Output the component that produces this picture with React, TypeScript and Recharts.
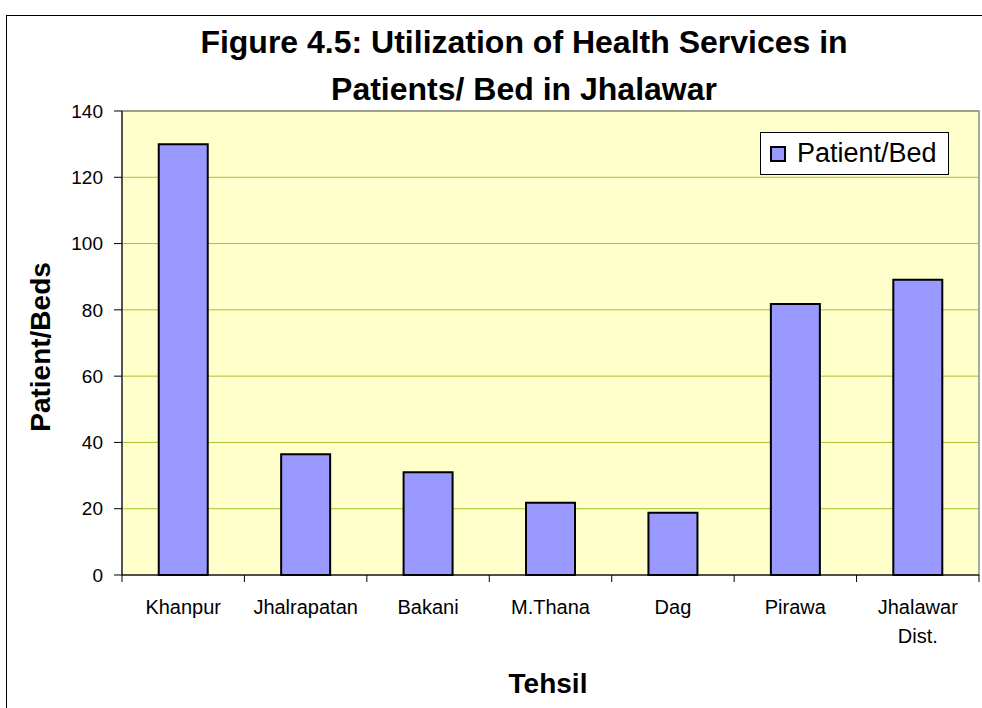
import React from "react";
import {
  BarChart,
  Bar,
  XAxis,
  YAxis,
  CartesianGrid,
  Legend,
  ReferenceArea,
} from "recharts";

const categories = [
  "Khanpur",
  "Jhalrapatan",
  "Bakani",
  "M.Thana",
  "Dag",
  "Pirawa",
  "Jhalawar Dist.",
];
const patientPerBed = [130, 36.4, 31, 21.8, 18.8, 81.8, 89.1];
const yTicks = [0, 20, 40, 60, 80, 100, 120, 140];
const seriesName = "Patient/Bed";
const titleLines = [
  "Figure 4.5: Utilization of Health Services in",
  "Patients/ Bed in Jhalawar",
];
const xTitle = "Tehsil";
const yTitle = "Patient/Beds";

const data = categories.map((c, i) => ({ tehsil: c, value: patientPerBed[i] }));

const W = 982;
const H = 708;
const PLOT_LEFT = 122;
const PLOT_RIGHT = 979;
const PLOT_TOP = 111;
const PLOT_BOTTOM = 575;
const BAND = (PLOT_RIGHT - PLOT_LEFT) / categories.length;
const FONT = "'Liberation Sans', Arial, Helvetica, sans-serif";

const CatTick = (props: any) => {
  const { x, payload, index } = props;
  const words = String(payload.value).split(" ");
  const isLast = index === categories.length - 1;
  return (
    <g>
      <line x1={x - BAND / 2} x2={x - BAND / 2} y1={PLOT_BOTTOM} y2={PLOT_BOTTOM + 7} stroke="#000" />
      {isLast && (
        <line x1={x + BAND / 2} x2={x + BAND / 2} y1={PLOT_BOTTOM} y2={PLOT_BOTTOM + 7} stroke="#000" />
      )}
      <text textAnchor="middle" fontSize={20} fontFamily={FONT} fill="#000">
        {words.map((w, i) => (
          <tspan key={i} x={x} y={PLOT_BOTTOM + 39 + i * 29}>
            {w}
          </tspan>
        ))}
      </text>
    </g>
  );
};

const LegendBox = () => (
  <div
    style={{
      boxSizing: "border-box",
      width: 189,
      height: 43,
      background: "#fff",
      border: "1px solid #000",
      display: "flex",
      alignItems: "center",
      fontFamily: FONT,
      fontSize: 27,
      color: "#000",
    }}
  >
    <span
      style={{
        display: "inline-block",
        boxSizing: "border-box",
        width: 16,
        height: 16,
        background: "#9999FF",
        border: "2px solid #000",
        marginLeft: 9,
        marginRight: 11,
      }}
    />
    <span>{seriesName}</span>
  </div>
);

export default function App() {
  return (
    <div style={{ position: "absolute", left: 0, top: 0, width: W, height: H, background: "#fff", overflow: "hidden" }}>
      <BarChart
        width={W}
        height={H}
        data={data}
        margin={{ top: PLOT_TOP, right: W - PLOT_RIGHT, bottom: 0, left: 0 }}
        barCategoryGap="30%"
      >
        <CartesianGrid vertical={false} stroke="#A4C62E" fill="#FFFFCC" fillOpacity={1} />
        <ReferenceArea
          x1={categories[0]}
          x2={categories[categories.length - 1]}
          y1={0}
          y2={140}
          fill="none"
          fillOpacity={0}
          stroke="#8c8c8c"
          strokeWidth={1.5}
          ifOverflow="visible"
        />
        <XAxis
          dataKey="tehsil"
          height={H - PLOT_BOTTOM}
          stroke="#000"
          tickLine={false}
          interval={0}
          tick={<CatTick />}
        />
        <YAxis
          width={PLOT_LEFT}
          domain={[0, 140]}
          ticks={yTicks}
          interval={0}
          tickSize={8}
          tickMargin={11}
          stroke="#000"
          tick={{ fill: "#000", fontSize: 19, fontFamily: FONT }}
        />
        <Bar
          dataKey="value"
          name={seriesName}
          fill="#9999FF"
          stroke="#000"
          strokeWidth={2}
          isAnimationActive={false}
        />
        <Legend
          layout="horizontal"
          verticalAlign="middle"
          align="center"
          content={<LegendBox />}
          wrapperStyle={{ position: "absolute", left: 760, top: 132, width: 189, height: 43 }}
        />
      </BarChart>
      <svg
        width={W}
        height={H}
        style={{ position: "absolute", left: 0, top: 0, pointerEvents: "none" }}
      >
        <line x1={6.5} y1={15} x2={6.5} y2={H} stroke="#000" />
        <line x1={6} y1={15.5} x2={W} y2={15.5} stroke="#000" />
        <text
          textAnchor="middle"
          fontFamily={FONT}
          fontWeight="bold"
          fontSize={32}
          fill="#000"
        >
          <tspan x={524} y={53}>{titleLines[0]}</tspan>
          <tspan x={524} y={100}>{titleLines[1]}</tspan>
        </text>
        <text
          x={548}
          y={693}
          textAnchor="middle"
          fontFamily={FONT}
          fontWeight="bold"
          fontSize={28}
          fill="#000"
        >
          {xTitle}
        </text>
        <text
          transform="translate(50, 347) rotate(-90)"
          textAnchor="middle"
          fontFamily={FONT}
          fontWeight="bold"
          fontSize={28}
          fill="#000"
        >
          {yTitle}
        </text>
      </svg>
    </div>
  );
}
